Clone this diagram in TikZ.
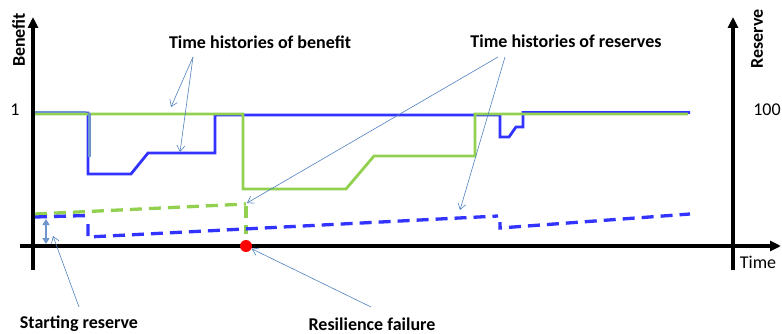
\documentclass[tikz,border=0pt]{standalone}
\usepackage{fontspec}
\setmainfont{Carlito}
\usetikzlibrary{arrows.meta}

\definecolor{benblue}{RGB}{51,51,255}
\definecolor{resgreen}{RGB}{146,208,80}
\definecolor{callout}{RGB}{79,129,189}
\definecolor{lightcallout}{RGB}{110,150,205}

\tikzset{
    axis/.style={line width=3.5pt, -{Triangle[length=11pt,width=10pt]}},
    benline/.style={line width=2.8pt, line join=miter},
    resline/.style={line width=3.3pt, dash pattern=on 12pt off 7pt},
    lbl/.style={font=\fontsize{18}{21}\selectfont\bfseries, inner sep=1pt},
    tick/.style={font=\fontsize{18}{21}\selectfont, inner sep=1pt},
    pointer/.style={callout, line width=0.6pt, -{Straight Barb[length=6pt,width=8pt]}}
}

\begin{document}
\begin{tikzpicture}[x=1pt,y=-1pt,thick]

    \useasboundingbox (0,0) rectangle (782,334);

    % axes
    \draw[axis] (33,270) -- (33,17);
    \draw[axis] (20,246) -- (781,246);
    \draw[axis] (733,270) -- (733,17);

    \node[lbl, rotate=90] (benefitax) at (18.5,40) {Benefit};
    \node[lbl, rotate=90] (reserveax) at (757,39) {Reserve};
    \node[tick] (one) at (15,110) {1};
    \node[tick] (hundred) at (767,110) {100};
    \node[tick] (timeax) at (758,262) {Time};

    % benefit histories
    \draw[benline, benblue] (35,113) -- (88,113) -- (88,174) -- (131,174) -- (148,153) -- (215,153)
        -- (215,115) -- (500,115) -- (500,137) -- (509,137) -- (516,127) -- (523,127) -- (523,112.5) -- (690,112.5);
    \draw[benline, resgreen] (35,114) -- (243,114) -- (243,189) -- (346,189) -- (374,156) -- (475,156)
        -- (475,114) -- (688,114);
    \draw[lightcallout, line width=1.5pt] (35,112) -- (86,112);
    \draw[benline, lightcallout] (89.5,113) -- (89.5,157);

    % reserve histories
    \draw[resline, resgreen] (35,214) -- (246,204);
    \draw[resline, resgreen] (246,206) -- (246,234);
    \draw[resline, benblue] (35,217) -- (88,215.5);
    \draw[resline, benblue] (88,224) -- (88,237) -- (498,216);
    \draw[resline, benblue, dash phase=4pt] (500,222) -- (500,228) -- (690,214);

    % starting reserve and failure point
    \draw[lightcallout, line width=1.3pt, {Triangle[length=6pt,width=7pt]}-{Triangle[length=6pt,width=7pt]}]
        (46,219) coordinate (startlo) -- (46,244) coordinate (starthi);
    \node[circle, fill=red, minimum size=12pt, inner sep=0pt] (fail) at (246,246) {};

    % labels
    \node[lbl] (benlbl) at (260,42) {Time histories of benefit};
    \node[lbl] (reslbl) at (566,41) {Time histories of reserves};
    \node[lbl] (startlbl) at (79,324) {Starting reserve};
    \node[lbl] (faillbl) at (372,324) {Resilience failure};

    \coordinate (benfrom) at (193,57);
    \coordinate (benup) at (171,107);
    \coordinate (bendown) at (180,152);
    \coordinate (resfromA) at (498,57);
    \coordinate (resfromB) at (505,57);
    \coordinate (resgreenend) at (247,203);
    \coordinate (resblueend) at (460,210);
    \coordinate (startfrom) at (79,307);
    \coordinate (startto) at (53,236);
    \coordinate (failfrom) at (371,307);

    \draw[pointer] (benfrom) -- (benup);
    \draw[pointer] (benfrom) -- (bendown);
    \draw[pointer] (resfromA) -- (resgreenend);
    \draw[pointer] (resfromB) -- (resblueend);
    \draw[pointer] (startfrom) -- (startto);
    \draw[pointer] (failfrom) -- (fail);

\end{tikzpicture}
\end{document}
